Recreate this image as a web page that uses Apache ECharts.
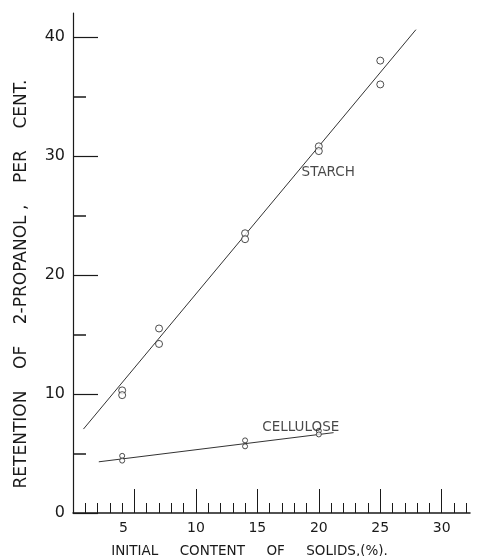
<!DOCTYPE html>
<html>
<head>
<meta charset="utf-8">
<script src="https://cdn.jsdelivr.net/npm/echarts@6/dist/echarts.min.js"></script>
<style>html,body{margin:0;padding:0;background:#fff}#c{width:477px;height:556px}</style>
</head>
<body>
<div id="c"></div>
<script>
// Data
const starchX = [4, 4, 7, 7, 14, 14, 20, 20, 25, 25];
const starchY = [10.3, 9.9, 15.5, 14.2, 23.5, 23.0, 30.8, 30.4, 38.0, 36.0];
const starchFitX = [0.85, 27.9];
const starchFitY = [7.05, 40.6];
const celluloseX = [4, 4, 14, 14, 20, 20];
const celluloseY = [4.8, 4.4, 6.1, 5.6, 6.9, 6.6];
const celluloseFitX = [2.1, 21.2];
const celluloseFitY = [4.3, 6.75];
const labelNames = ['STARCH', 'CELLULOSE'];
const labelX = [18.6, 15.4];
const labelY = [28.6, 7.2];
const xMajorTicks = [5, 10, 15, 20, 25, 30];
const xMinorTicks = [1,2,3,4,6,7,8,9,11,12,13,14,16,17,18,19,21,22,23,24,26,27,28,29,31,32];
const yMajorTicks = [0, 10, 20, 30, 40];
const yMinorTicks = [5, 15, 25, 35];

const zip = (a, b) => a.map((v, i) => [v, b[i]]);
const FONT = 'DejaVu Sans';
const INK = '#1a1a1a';

const chart = echarts.init(document.getElementById('c'), null, {renderer: 'canvas'});
const xBase = {type: 'value', min: 0, max: 32.3, position: 'bottom', splitLine: {show: false}};
const yBase = {type: 'value', min: 0, max: 42, position: 'left', splitLine: {show: false}};
chart.setOption({
  animation: false,
  backgroundColor: '#fff',
  grid: {left: 73, top: 13, right: 7, bottom: 43, containLabel: false, outerBoundsMode: 'none'},
  xAxis: [
    Object.assign({}, xBase, {
      name: 'INITIAL     CONTENT     OF     SOLIDS,(%).',
      nameLocation: 'middle', nameGap: 31,
      nameTextStyle: {fontFamily: FONT, fontSize: 13.5, color: INK, padding: [0, 44, 0, 0]},
      axisLine: {show: true, lineStyle: {color: INK, width: 1.5}},
      axisTick: {show: true, inside: true, length: 24, customValues: xMajorTicks, lineStyle: {color: INK, width: 1}},
      axisLabel: {show: true, customValues: xMajorTicks, margin: 8, fontFamily: FONT, fontSize: 14, color: INK,
        formatter: v => v === 5 ? '{s|5}' : String(v),
        rich: {s: {fontFamily: FONT, fontSize: 14, color: INK, padding: [0, 22, 0, 0]}}}
    }),
    Object.assign({}, xBase, {
      axisLine: {show: false},
      axisTick: {show: true, inside: true, length: 10, customValues: xMinorTicks, lineStyle: {color: INK, width: 1}},
      axisLabel: {show: false}
    })
  ],
  yAxis: [
    Object.assign({}, yBase, {
      name: 'RETENTION    OF    2-PROPANOL ,    PER    CENT.',
      nameLocation: 'middle', nameGap: 43, nameRotate: 90,
      nameTextStyle: {fontFamily: FONT, fontSize: 17, color: INK, padding: [0, 42, 0, 0]},
      axisLine: {show: true, lineStyle: {color: INK, width: 1.2}},
      axisTick: {show: true, inside: true, length: 25, customValues: yMajorTicks, lineStyle: {color: INK, width: 1.2}},
      axisLabel: {show: true, customValues: yMajorTicks, margin: 8, fontFamily: FONT, fontSize: 16, color: INK}
    }),
    Object.assign({}, yBase, {
      axisLine: {show: false},
      axisTick: {show: true, inside: true, length: 13, customValues: yMinorTicks, lineStyle: {color: INK, width: 1.5}},
      axisLabel: {show: false}
    })
  ],
  series: [
    {type: 'line', data: zip(starchFitX, starchFitY), symbol: 'none', lineStyle: {color: '#333', width: 1}, silent: true},
    {type: 'line', data: zip(celluloseFitX, celluloseFitY), symbol: 'none', lineStyle: {color: '#333', width: 1}, silent: true},
    {type: 'scatter', data: zip(starchX, starchY), symbol: 'circle', symbolSize: 7,
      itemStyle: {color: '#fff', borderColor: '#222', borderWidth: 1}, z: 5},
    {type: 'scatter', data: zip(celluloseX, celluloseY), symbol: 'circle', symbolSize: 5,
      itemStyle: {color: '#fff', borderColor: '#222', borderWidth: 1}, z: 5},
    {type: 'scatter', data: labelNames.map((n, i) => ({name: n, value: [labelX[i], labelY[i]]})),
      symbolSize: 0, silent: true, z: 6,
      label: {show: true, position: 'right', distance: 0, formatter: p => p.name,
        fontFamily: FONT, fontSize: 13.5, color: INK}}
  ]
});
</script>
</body>
</html>
